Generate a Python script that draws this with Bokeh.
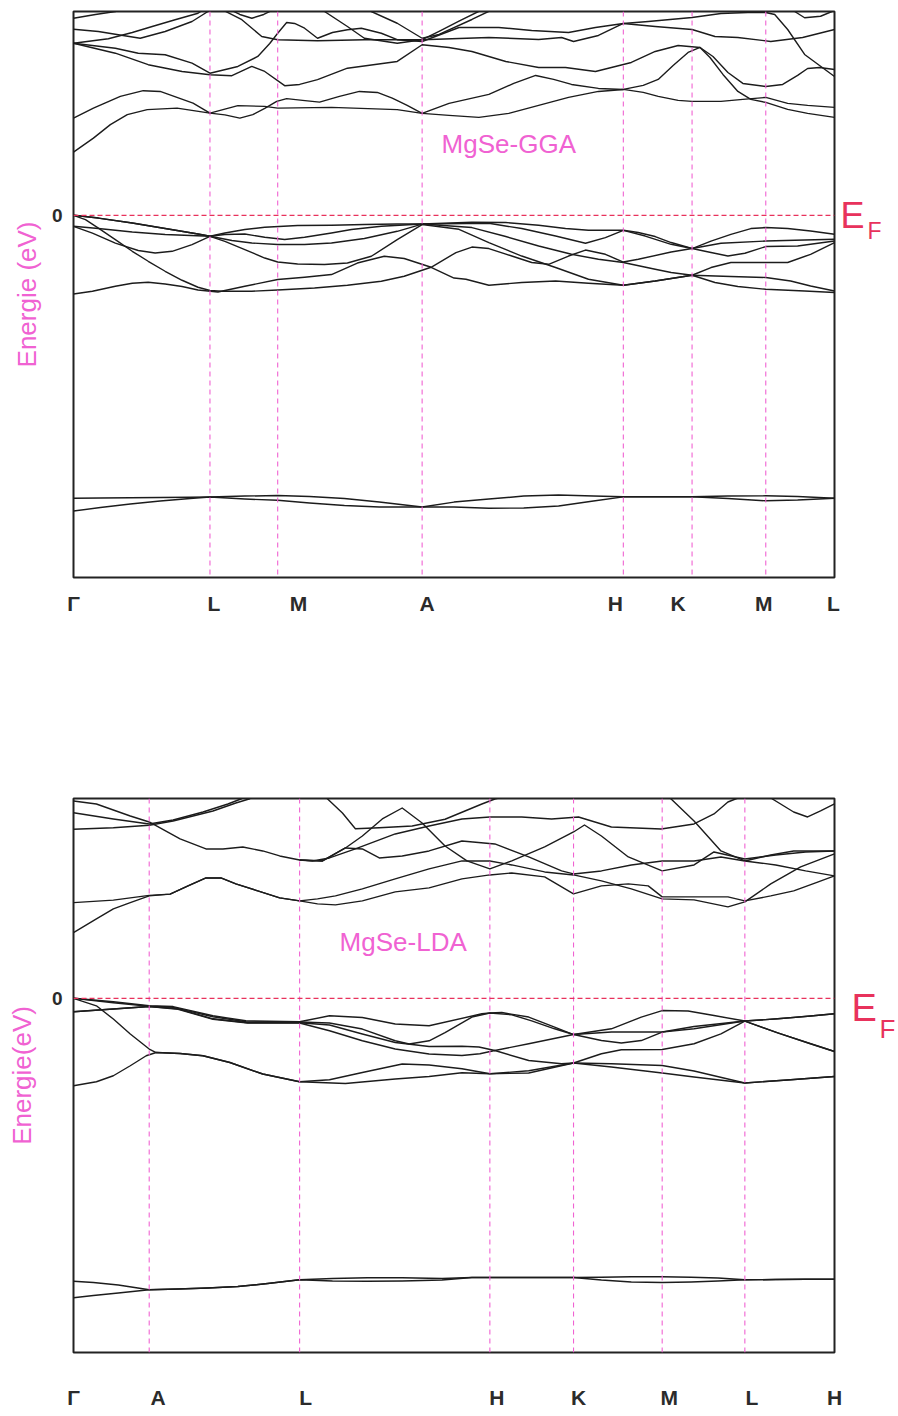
from bokeh.plotting import figure
from bokeh.layouts import column
from bokeh.models import Range1d, FixedTicker, Span, Label, LinearAxis
from bokeh.embed import file_html
from bokeh.resources import INLINE

# ================= MgSe, GGA =================
gga_k_end = 7.64
gga_sym_k = [1.37, 2.05, 3.50, 5.52, 6.21, 6.95]
gga_tick_k = [0.0, 1.41, 2.26, 3.55, 5.44, 6.07, 6.93, 7.63]
gga_tick_names = ["Γ", "L", "M", "A", "H", "K", "M", "L"]

# Se-p valence bands (k, eV)
gga_val_k = [
    [0.00, 0.25, 0.59, 0.92, 1.25, 1.37, 1.52, 1.72, 1.92, 2.25, 2.59, 2.92, 3.25, 3.50,
     4.00, 4.34, 4.67, 4.94, 5.17, 5.52, 5.67, 5.84, 6.00, 6.21, 6.50, 6.95, 7.34, 7.64],
    [0.00, 0.25, 0.59, 0.92, 1.37, 1.52, 1.72, 1.92, 2.12, 2.32, 2.59, 2.79, 3.09, 3.50,
     4.17, 4.50, 4.84, 5.14, 5.34, 5.52, 5.74, 6.00, 6.21, 6.40, 6.57, 6.74, 6.95, 7.27, 7.64],
    [0.00, 0.19, 0.42, 0.65, 0.82, 0.99, 1.19, 1.37, 1.59, 1.79, 2.05, 2.32, 2.59, 2.92, 3.25, 3.50,
     4.00, 4.34, 4.67, 5.00, 5.27, 5.52, 5.84, 6.00, 6.21, 6.40, 6.60, 6.95, 7.17, 7.40, 7.64],
    [0.00, 0.25, 0.59, 0.92, 1.25, 1.37, 1.52, 1.72, 1.92, 2.05, 2.25, 2.52, 2.75, 2.99, 3.25, 3.50,
     3.87, 4.17, 4.50, 4.84, 5.17, 5.52, 5.84, 6.21, 6.60, 6.95, 7.20, 7.40, 7.64],
    [0.00, 0.12, 0.25, 0.42, 0.59, 0.75, 0.92, 1.09, 1.25, 1.37, 1.49, 1.79, 2.05, 2.42, 2.75, 3.09,
     3.32, 3.59, 3.84, 4.00, 4.17, 4.40, 4.60, 4.77, 4.97, 5.14, 5.34, 5.52, 5.67, 6.00, 6.21, 6.40,
     6.60, 6.80, 6.95, 7.17, 7.40, 7.64],
    [0.00, 0.19, 0.42, 0.59, 0.75, 0.92, 1.09, 1.25, 1.45, 1.72, 2.05, 2.32, 2.59, 2.85, 3.12, 3.32,
     3.59, 3.82, 3.94, 4.17, 4.50, 4.84, 5.17, 5.52, 5.84, 6.21, 6.44, 6.67, 6.95, 7.34, 7.64],
]
gga_val_e = [
    [0.00, -0.11, -0.31, -0.53, -0.75, -0.84, -0.71, -0.57, -0.48, -0.41, -0.40, -0.37, -0.35, -0.35,
     -0.28, -0.29, -0.40, -0.53, -0.60, -0.60, -0.69, -0.85, -1.09, -1.33, -1.12, -1.03, -0.99, -0.96],
    [-0.44, -0.53, -0.67, -0.77, -0.84, -0.77, -0.75, -0.88, -0.97, -0.88, -0.71, -0.57, -0.44, -0.35,
     -0.32, -0.53, -0.83, -1.12, -0.89, -0.60, -0.83, -1.16, -1.33, -1.49, -1.63, -1.52, -1.25, -1.23, -1.03],
    [-0.44, -0.71, -1.11, -1.41, -1.51, -1.44, -1.17, -0.84, -1.01, -1.11, -1.17, -1.17, -1.11, -0.93, -0.64, -0.35,
     -0.49, -0.85, -1.23, -1.56, -1.76, -1.89, -2.16, -2.29, -2.40, -2.09, -1.89, -1.89, -1.89, -1.56, -1.09],
    [0.00, -0.11, -0.31, -0.53, -0.75, -0.84, -1.04, -1.37, -1.71, -1.87, -1.95, -1.97, -1.91, -1.64, -0.97, -0.37,
     -0.56, -1.09, -1.63, -2.09, -2.56, -2.80, -2.63, -2.40, -2.45, -2.49, -2.63, -2.83, -3.03],
    [0.00, -0.17, -0.51, -0.97, -1.44, -1.84, -2.24, -2.60, -2.88, -3.01, -3.04, -3.04, -2.99, -2.91, -2.80, -2.64,
     -2.44, -2.08, -1.49, -1.27, -1.33, -1.63, -1.89, -1.96, -1.63, -1.39, -1.56, -1.87, -1.76, -1.47, -1.33, -1.03,
     -0.76, -0.53, -0.49, -0.53, -0.63, -0.76],
    [-3.15, -3.04, -2.84, -2.72, -2.68, -2.75, -2.85, -2.99, -3.07, -2.84, -2.57, -2.48, -2.37, -1.91, -1.64, -1.73,
     -2.08, -2.51, -2.56, -2.80, -2.69, -2.63, -2.72, -2.80, -2.63, -2.40, -2.69, -2.85, -2.96, -3.03, -3.09],
]

# Se-s semicore bands (k, eV)
gga_core_k = [0.00, 0.27, 0.57, 0.87, 1.17, 1.37, 1.72, 2.05, 2.37, 2.72, 3.07, 3.50,
              3.82, 4.17, 4.52, 4.87, 5.22, 5.52, 5.87, 6.21, 6.57, 6.95, 7.27, 7.64]
gga_core_e = [
    [-11.33, -11.32, -11.31, -11.30, -11.29, -11.28, -11.24, -11.22, -11.26, -11.34, -11.48, -11.68,
     -11.48, -11.36, -11.24, -11.20, -11.24, -11.27, -11.27, -11.27, -11.24, -11.23, -11.26, -11.33],
    [-11.84, -11.70, -11.56, -11.44, -11.34, -11.28, -11.36, -11.41, -11.52, -11.62, -11.68, -11.68,
     -11.68, -11.73, -11.72, -11.64, -11.44, -11.27, -11.27, -11.27, -11.34, -11.43, -11.40, -11.33],
]

# conduction bands (k, eV)
gga_cond_k = [
    [0.00, 0.20, 0.37, 0.54, 0.74, 1.04, 1.37, 1.52, 1.67, 1.80, 1.92, 2.04, 2.14, 2.30, 2.47, 2.67,
     2.87, 3.05, 3.20, 3.35, 3.50, 3.77, 4.07, 4.37, 4.67, 4.97, 5.27, 5.52, 5.72, 5.87, 6.07, 6.21,
     6.50, 6.72, 6.95, 7.17, 7.37, 7.64],
    [0.00, 0.20, 0.47, 0.70, 0.87, 1.20, 1.37, 1.65, 1.92, 2.05, 2.59, 3.25, 3.50, 3.77, 4.17, 4.42,
     4.64, 4.82, 5.00, 5.27, 5.52, 5.72, 5.87, 6.02, 6.17, 6.29, 6.42, 6.57, 6.72, 6.95, 7.12, 7.27,
     7.37, 7.49, 7.64],
    [0.00, 0.42, 0.75, 1.09, 1.37, 1.59, 1.79, 1.92, 2.12, 2.27, 2.45, 2.75, 3.25, 3.50, 3.77, 4.00,
     4.34, 4.67, 4.94, 5.24, 5.40, 5.60, 5.84, 6.07, 6.29, 6.39, 6.52, 6.67, 6.80, 6.95, 7.17, 7.37,
     7.64],
    [0.00, 0.42, 0.65, 0.92, 1.19, 1.37, 1.65, 1.85, 1.97, 2.05, 2.14, 2.22, 2.32, 2.45, 2.60, 2.75,
     2.89, 3.09, 3.25, 3.50, 3.87, 4.27, 4.60, 4.97, 5.24, 5.52, 5.77, 6.21, 6.50, 6.77, 6.95, 7.04,
     7.17, 7.34, 7.49, 7.64],
    [1.47, 1.69, 1.89, 2.05, 2.45, 2.92, 3.50, 4.17, 4.67, 4.90, 5.02, 5.27, 5.52, 5.84, 6.21, 6.44,
     6.67, 7.00, 7.32, 7.64],
    [2.47, 2.52, 2.75, 2.92, 3.25, 3.50, 3.67, 3.87, 4.07, 4.17],
    [2.95, 2.99, 3.25, 3.50, 3.67, 4.00, 4.17, 4.24],
    [0.00, 0.22, 0.42, 0.52],
    [0.00, 0.25, 0.45, 0.67, 0.92, 1.19, 1.35, 1.40],
    [0.00, 0.35, 0.59, 0.79, 1.02, 1.25, 1.32],
    [1.55, 1.67, 1.79, 1.91, 2.03],
    [7.15, 7.24, 7.34, 7.50, 7.62, 7.64],
]
gga_cond_e = [
    [2.53, 3.09, 3.63, 4.03, 4.23, 4.29, 4.09, 4.02, 3.89, 4.03, 4.28, 4.56, 4.67, 4.60, 4.53, 4.76,
     4.96, 4.92, 4.69, 4.40, 4.08, 4.00, 3.92, 4.08, 4.40, 4.72, 4.96, 5.04, 4.92, 4.76, 4.60, 4.56,
     4.56, 4.64, 4.72, 4.48, 4.40, 4.32],
    [3.89, 4.29, 4.76, 4.99, 4.96, 4.49, 4.09, 4.39, 4.36, 4.29, 4.32, 4.23, 4.08, 4.48, 4.84, 5.28,
     5.60, 5.44, 5.24, 5.08, 5.04, 5.20, 5.44, 6.00, 6.52, 6.72, 6.36, 5.72, 5.28, 5.16, 5.24, 5.60,
     5.88, 5.92, 5.84],
    [6.89, 6.49, 6.03, 5.76, 5.63, 5.59, 5.96, 5.76, 5.19, 5.24, 5.43, 5.89, 6.16, 6.83, 6.72, 6.56,
     6.16, 5.92, 5.92, 5.76, 5.92, 6.12, 6.56, 6.80, 6.72, 6.32, 5.64, 4.96, 4.64, 4.52, 4.24, 4.08,
     3.92],
    [6.89, 6.69, 6.49, 6.43, 6.09, 5.69, 5.96, 6.36, 6.88, 7.29, 7.72, 7.68, 7.49, 7.09, 7.32, 7.43,
     7.49, 7.29, 7.03, 6.96, 7.52, 7.52, 7.40, 7.32, 7.52, 7.68, 7.76, 7.92, 8.08, 8.12, 8.12, 8.04,
     7.44, 6.44, 6.00, 5.56],
    [8.28, 7.83, 7.16, 7.03, 6.99, 7.03, 7.03, 7.12, 7.04, 7.12, 6.96, 7.20, 7.68, 7.56, 7.44, 7.16,
     7.12, 6.96, 7.12, 7.44],
    [8.28, 8.16, 7.56, 7.09, 6.89, 7.03, 7.36, 7.77, 8.17, 8.40],
    [8.32, 8.16, 7.69, 7.09, 7.24, 7.84, 8.17, 8.40],
    [7.89, 8.04, 8.16, 8.28],
    [7.45, 7.36, 7.23, 7.09, 7.36, 7.76, 8.16, 8.32],
    [6.89, 7.07, 7.32, 7.56, 7.83, 8.09, 8.28],
    [8.28, 8.04, 7.89, 8.04, 8.28],
    [8.36, 8.16, 7.91, 7.97, 8.17, 8.24],
]

# ================= MgSe, LDA =================
lda_k_end = 7.64
lda_sym_k = [0.76, 2.27, 4.18, 5.02, 5.91, 6.74]
lda_tick_k = [0.0, 0.85, 2.33, 4.25, 5.07, 5.98, 6.81, 7.64]
lda_tick_names = ["Γ", "A", "L", "H", "K", "M", "L", "H"]

# Se-p valence bands (k, eV)
lda_val_k = [
    [0.00, 0.40, 0.76, 1.00, 1.40, 1.73, 2.27, 2.57, 2.90, 3.23, 3.57, 4.10, 4.18, 4.30, 4.57, 4.83,
     5.02, 5.40, 5.70, 5.91, 6.17, 6.43, 6.74, 7.07, 7.40, 7.64],
    [0.00, 0.40, 0.76, 1.00, 1.40, 1.73, 2.27, 2.57, 2.90, 3.23, 3.37, 3.57, 3.73, 4.00, 4.18, 4.40,
     4.60, 4.83, 5.02, 5.30, 5.50, 5.70, 5.91, 6.23, 6.74, 7.07, 7.40, 7.64],
    [0.00, 0.40, 0.76, 1.05, 1.40, 1.75, 2.27, 2.57, 2.90, 3.23, 3.57, 3.90, 4.07, 4.23, 4.57, 5.02,
     5.40, 5.91, 6.23, 6.74, 7.07, 7.40, 7.64],
    [0.00, 0.40, 0.76, 1.05, 1.40, 1.75, 2.27, 2.57, 2.90, 3.23, 3.57, 3.90, 4.08, 4.23, 4.57, 4.90,
     5.02, 5.30, 5.50, 5.91, 6.23, 6.50, 6.74, 7.07, 7.40, 7.64],
    [0.00, 0.23, 0.40, 0.57, 0.76, 0.83, 1.07, 1.30, 1.57, 1.90, 2.27, 2.57, 2.90, 3.30, 3.57, 3.90,
     4.18, 4.57, 5.02, 5.40, 5.91, 6.23, 6.74, 7.20, 7.64],
    [0.00, 0.23, 0.40, 0.57, 0.73, 0.83, 1.07, 1.30, 1.57, 1.90, 2.27, 2.73, 3.23, 3.57, 3.90, 4.18,
     4.57, 5.02, 5.40, 5.91, 6.23, 6.74, 7.20, 7.64],
]
lda_val_e = [
    [0.00, -0.14, -0.30, -0.33, -0.70, -0.90, -0.94, -0.70, -0.77, -1.03, -1.10, -0.62, -0.59, -0.57,
     -0.75, -1.15, -1.45, -1.22, -0.75, -0.49, -0.51, -0.69, -0.91, -0.82, -0.71, -0.62],
    [0.00, -0.18, -0.32, -0.36, -0.74, -0.94, -0.95, -0.99, -1.23, -1.70, -1.83, -1.70, -1.37, -0.75,
     -0.59, -0.66, -0.90, -1.22, -1.45, -1.69, -1.79, -1.69, -1.35, -1.13, -0.91, -1.38, -1.82, -2.13],
    [-0.54, -0.43, -0.33, -0.42, -0.82, -0.98, -0.98, -1.07, -1.43, -1.77, -1.93, -1.92, -1.95, -2.09,
     -1.82, -1.45, -1.35, -1.35, -1.22, -0.91, -0.82, -0.71, -0.62],
    [-0.54, -0.43, -0.33, -0.44, -0.84, -0.99, -0.99, -1.30, -1.70, -2.03, -2.23, -2.29, -2.22, -2.09,
     -2.49, -2.62, -2.59, -2.22, -2.06, -2.05, -1.82, -1.42, -0.91, -1.38, -1.82, -2.13],
    [0.00, -0.30, -0.83, -1.43, -2.03, -2.17, -2.21, -2.30, -2.57, -3.03, -3.34, -3.26, -2.97, -2.63,
     -2.67, -2.82, -3.02, -2.99, -2.59, -2.62, -2.69, -2.91, -3.39, -3.26, -3.13],
    [-3.50, -3.34, -3.10, -2.70, -2.30, -2.17, -2.21, -2.30, -2.57, -3.03, -3.34, -3.41, -3.23, -3.13,
     -2.98, -3.02, -2.90, -2.59, -2.75, -2.99, -3.15, -3.39, -3.26, -3.13],
]

# Se-s semicore bands (k, eV)
lda_core_k = [0.00, 0.20, 0.45, 0.76, 1.05, 1.35, 1.65, 1.95, 2.27, 2.60, 2.95, 3.30, 3.70,
              4.00, 4.18, 4.45, 4.75, 5.02, 5.30, 5.60, 5.91, 6.20, 6.47, 6.74, 7.05, 7.35, 7.64]
lda_core_e = [
    [-11.33, -11.38, -11.48, -11.67, -11.64, -11.60, -11.54, -11.42, -11.27, -11.22, -11.19, -11.19, -11.22,
     -11.18, -11.18, -11.18, -11.18, -11.18, -11.17, -11.15, -11.15, -11.17, -11.20, -11.27, -11.26, -11.25, -11.25],
    [-11.99, -11.90, -11.80, -11.67, -11.64, -11.60, -11.54, -11.42, -11.27, -11.32, -11.33, -11.32, -11.28,
     -11.18, -11.18, -11.18, -11.18, -11.18, -11.28, -11.36, -11.38, -11.36, -11.32, -11.27, -11.26, -11.25, -11.25],
]

# conduction bands (k, eV)
lda_cond_k = [
    [0.00, 0.23, 0.40, 0.57, 0.76, 0.97, 1.15, 1.33, 1.48, 1.63, 1.85, 2.07, 2.27, 2.45, 2.63, 2.90,
     3.23, 3.57, 3.90, 4.18, 4.40, 4.73, 5.02, 5.30, 5.57, 5.77, 5.91, 6.23, 6.57, 6.74, 7.00, 7.23,
     7.45, 7.64],
    [0.00, 0.40, 0.76, 0.97, 1.15, 1.33, 1.48, 1.63, 1.85, 2.07, 2.27, 2.45, 2.63, 2.90, 3.23, 3.57,
     3.90, 4.18, 4.40, 4.73, 5.02, 5.30, 5.60, 5.91, 6.23, 6.57, 6.74, 7.00, 7.30, 7.64],
    [0.00, 0.40, 0.76, 1.00, 1.30, 1.55, 1.68, 1.74],
    [0.00, 0.40, 0.76, 1.00, 1.40, 1.63, 1.77, 1.83],
    [0.00, 0.23, 0.57, 0.76, 1.07, 1.33, 1.50, 1.70, 1.90, 2.07, 2.27, 2.50, 2.73, 2.90, 3.10, 3.30,
     3.50, 3.73, 3.95, 4.18, 4.40, 4.73, 5.02, 5.13, 5.30, 5.57, 5.91, 6.23, 6.43, 6.74, 7.05, 7.35,
     7.64],
    [2.27, 2.40, 2.57, 2.83, 3.23, 3.57, 3.90, 4.18, 4.50, 4.80, 5.07, 5.40, 5.90, 6.23, 6.43, 6.57,
     6.67, 6.72],
    [2.50, 2.53, 2.70, 2.83, 3.07, 3.40, 3.73, 4.10, 4.23, 4.35],
    [5.92, 6.00, 6.23, 6.50, 6.74, 7.00, 7.23, 7.64],
    [6.95, 7.00, 7.23, 7.37, 7.50, 7.64],
    [2.27, 2.50, 2.73, 2.90, 3.07, 3.30, 3.57, 3.90, 4.23, 4.57, 4.90, 5.02, 5.30, 5.60, 5.91, 6.23,
     6.50, 6.74, 7.05, 7.35, 7.64],
]
lda_cond_e = [
    [2.63, 3.18, 3.58, 3.83, 4.10, 4.17, 4.50, 4.82, 4.82, 4.58, 4.30, 4.02, 3.90, 3.78, 3.74, 3.90,
     4.26, 4.42, 4.78, 4.94, 5.02, 4.86, 4.18, 4.50, 4.58, 4.50, 4.06, 4.06, 4.06, 3.90, 4.10, 4.30,
     4.62, 4.90],
    [3.83, 3.93, 4.12, 4.17, 4.50, 4.82, 4.82, 4.58, 4.30, 4.02, 3.90, 3.98, 4.10, 4.38, 4.78, 5.18,
     5.50, 5.50, 5.34, 5.06, 4.94, 4.70, 4.38, 3.98, 3.94, 3.66, 3.86, 4.58, 5.26, 5.78],
    [7.43, 7.18, 6.98, 7.14, 7.46, 7.78, 7.98, 8.10],
    [6.77, 6.83, 6.93, 7.10, 7.50, 7.82, 7.99, 8.14],
    [7.90, 7.78, 7.30, 7.06, 6.38, 5.98, 5.98, 6.06, 5.90, 5.70, 5.54, 5.50, 6.02, 6.50, 7.18, 7.62,
     7.02, 6.10, 5.50, 5.18, 5.50, 6.06, 6.66, 6.94, 6.50, 5.66, 5.10, 5.34, 5.86, 5.58, 5.74, 5.86,
     5.90],
    [5.54, 5.50, 5.62, 5.98, 6.58, 6.90, 7.18, 7.26, 7.26, 7.18, 7.26, 6.86, 6.78, 6.98, 7.38, 7.86,
     8.02, 8.18],
    [8.20, 8.06, 7.42, 6.79, 6.83, 6.90, 7.17, 7.78, 7.98, 8.10],
    [8.18, 7.98, 7.10, 5.90, 5.50, 5.74, 5.90, 5.90],
    [8.18, 8.02, 7.46, 7.26, 7.50, 7.78],
    [5.54, 5.50, 6.02, 5.98, 5.62, 5.70, 5.90, 6.30, 6.18, 5.66, 5.10, 4.98, 5.10, 5.34, 5.50, 5.50,
     5.66, 5.50, 5.34, 5.10, 4.90],
]

PINK = "#f062d2"
RED = "#e8325c"
INK = "#1c1c1c"
FONT = "Liberation Sans"


def band_panel(k_end, curves, sym_k, tick_k, tick_names, y_lo, y_hi,
               axis_title, borders, x_standoff, ylabel_standoff):
    left, right, top, bottom = borders
    p = figure(width=898, height=708, output_backend="svg", toolbar_location=None,
               x_range=Range1d(0, k_end), y_range=Range1d(y_lo, y_hi),
               min_border_left=left, min_border_right=right,
               min_border_top=top, min_border_bottom=bottom)
    p.background_fill_color = "white"
    p.border_fill_color = "white"
    p.outline_line_color = "#222222"
    p.outline_line_width = 2
    p.xgrid.visible = False
    p.ygrid.visible = False

    for s in sym_k:
        p.add_layout(Span(location=s, dimension="height", line_color=PINK,
                          line_width=1.1, line_dash="5 4"))
    p.add_layout(Span(location=0, dimension="width", line_color=RED,
                      line_width=1.3, line_dash="5 3"))

    for kk, e in curves:
        p.line(kk, e, line_color=INK, line_width=1.4, line_join="round")

    xa = p.xaxis[0]
    xa.ticker = FixedTicker(ticks=tick_k)
    xa.major_label_overrides = {t: n for t, n in zip(tick_k, tick_names)}
    xa.axis_line_color = None
    xa.major_tick_line_color = None
    xa.minor_tick_line_color = None
    xa.major_tick_out = 0
    xa.major_label_text_font = FONT
    xa.major_label_text_font_style = "bold"
    xa.major_label_text_font_size = "21px"
    xa.major_label_text_color = "#2b2b2b"
    xa.major_label_standoff = x_standoff

    ya = p.yaxis[0]
    ya.ticker = FixedTicker(ticks=[0])
    ya.axis_line_color = None
    ya.major_tick_line_color = None
    ya.minor_tick_line_color = None
    ya.major_tick_out = 0
    ya.major_label_text_font = FONT
    ya.major_label_text_font_style = "bold"
    ya.major_label_text_font_size = "19px"
    ya.major_label_text_color = "#2b2b2b"
    ya.major_label_standoff = 11
    ya.axis_label = axis_title
    ya.axis_label_text_font = FONT
    ya.axis_label_text_font_style = "normal"
    ya.axis_label_text_font_size = "26px"
    ya.axis_label_text_color = PINK
    ya.axis_label_standoff = ylabel_standoff
    return p


def fermi_marker(p, e_level, f_level, e_gap, e_size, f_size):
    """E_F written at the right edge as two stacked right-hand axes."""
    for lvl, txt, size, gap in ((e_level, "E", e_size, e_gap), (f_level, "F", f_size, 0)):
        ax = LinearAxis(ticker=FixedTicker(ticks=[lvl]),
                        major_label_overrides={lvl: txt})
        ax.axis_line_color = None
        ax.major_tick_line_color = None
        ax.minor_tick_line_color = None
        ax.major_tick_out = 0
        ax.major_tick_in = 0
        ax.major_label_standoff = gap
        ax.major_label_text_font = FONT
        ax.major_label_text_font_size = size
        ax.major_label_text_color = RED
        p.add_layout(ax, "right")


gga_curves = (list(zip(gga_val_k, gga_val_e))
              + [(gga_core_k, e) for e in gga_core_e]
              + list(zip(gga_cond_k, gga_cond_e)))
top = band_panel(gga_k_end, gga_curves, gga_sym_k, gga_tick_k, gga_tick_names,
                 -14.5, 8.16, "Energie (eV)", (73, 61, 11, 131), 14, 7)
top.add_layout(Label(x=4.37, y=2.84, text="MgSe-GGA", text_color=PINK, text_font=FONT,
                     text_font_size="26px", text_align="center", text_baseline="alphabetic"))
fermi_marker(top, 0.0, -0.62, 6, "36px", "23px")

lda_curves = (list(zip(lda_val_k, lda_val_e))
              + [(lda_core_k, e) for e in lda_core_e]
              + list(zip(lda_cond_k, lda_cond_e)))
bottom = band_panel(lda_k_end, lda_curves, lda_sym_k, lda_tick_k, lda_tick_names,
                    -14.18, 8.0, "Energie(eV)", (70, 64, 90, 64), 33, 12)
bottom.add_layout(Label(x=3.31, y=2.26, text="MgSe-LDA", text_color=PINK, text_font=FONT,
                        text_font_size="26px", text_align="center", text_baseline="alphabetic"))
fermi_marker(bottom, -0.40, -1.22, 17, "38px", "26px")

layout = column(top, bottom, spacing=0)
open("out.html", "w").write(file_html(layout, INLINE))
